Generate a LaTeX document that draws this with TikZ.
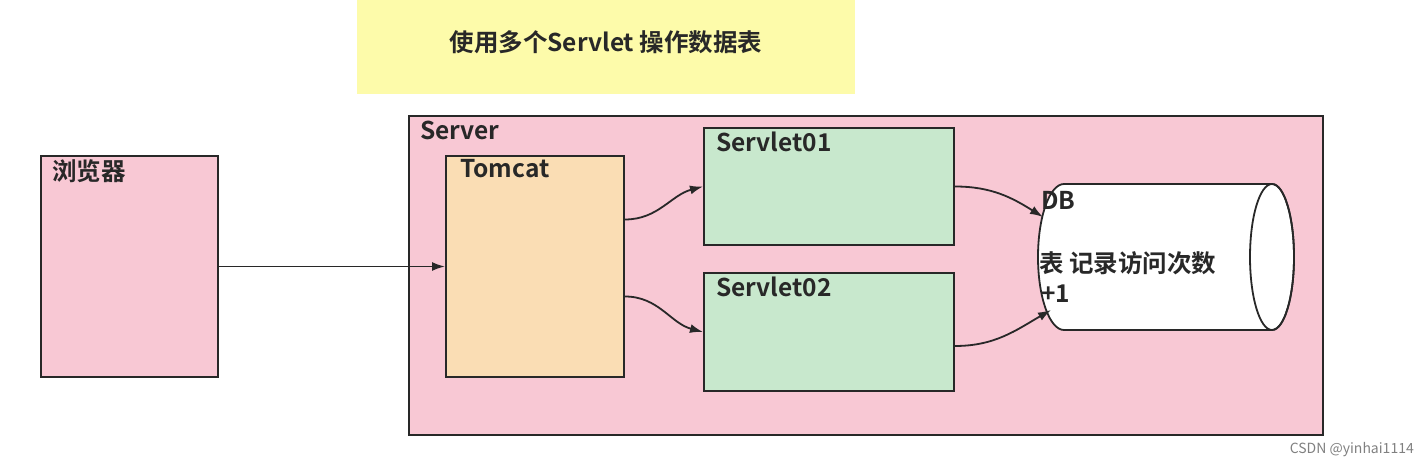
\documentclass[tikz,border=0pt]{standalone}
\usepackage{fontspec}
\setmainfont{Noto Sans CJK SC}
\newfontfamily\cjkb{Noto Sans CJK SC Bold}
\usetikzlibrary{arrows.meta}
\definecolor{pinkbg}{RGB}{248,200,212}
\definecolor{orangebg}{RGB}{250,221,180}
\definecolor{greenbg}{RGB}{200,232,205}
\definecolor{yellowbg}{RGB}{253,251,170}
\definecolor{edge}{RGB}{40,40,40}
\tikzset{
  box/.style={draw=edge, line width=2pt, inner sep=0pt, anchor=north west},
  lbl/.style={font=\cjkb\fontsize{24.5}{28}\selectfont, text=edge, inner sep=0pt, anchor=base west},
  conn/.style={draw=edge, line width=1.8pt, -{Latex[length=13pt,width=9pt]}},
}
\begin{document}
\begin{tikzpicture}[x=1pt,y=1pt]
\useasboundingbox (0,0) rectangle (1428,-465);
% title
\node[fill=yellowbg, inner sep=0pt, minimum width=498pt, minimum height=94pt, anchor=north west] (title) at (357,0) {};
\node[font=\cjkb\fontsize{24.5}{28}\selectfont, text=edge, inner sep=0pt] (titletext) at (606,-42) {使用多个Servlet 操作数据表};
% browser
\node[box, fill=pinkbg, minimum width=177pt, minimum height=221pt] (browser) at (40,-155) {};
\node[lbl] (browserl) at ([shift={(12,-26)}]browser.north west) {浏览器};
% server
\node[box, fill=pinkbg, minimum width=914pt, minimum height=319pt] (server) at (408,-115) {};
\node[lbl] (serverl) at ([shift={(12,-25)}]server.north west) {Server};
% tomcat
\node[box, fill=orangebg, minimum width=178pt, minimum height=221pt] (tomcat) at (445,-155) {};
\node[lbl] (tomcatl) at ([shift={(15,-23)}]tomcat.north west) {Tomcat};
% servlets
\node[box, fill=greenbg, minimum width=250pt, minimum height=117pt] (s1) at (703,-127) {};
\node[lbl] (s1l) at ([shift={(13,-25)}]s1.north west) {Servlet01};
\node[box, fill=greenbg, minimum width=250pt, minimum height=118pt] (s2) at (703,-272) {};
\node[lbl] (s2l) at ([shift={(13,-25)}]s2.north west) {Servlet02};
% DB cylinder
\node[inner sep=0pt, minimum width=256pt, minimum height=146pt, anchor=north west] (db) at (1038,-184) {};
\path[fill=white, draw=edge, line width=1.8pt]
  (1272,-184) -- (1064,-184)
  arc[start angle=90, end angle=270, x radius=26pt, y radius=73pt]
  -- (1272,-330)
  arc[start angle=-90, end angle=90, x radius=22pt, y radius=73pt] -- cycle;
\draw[draw=edge, line width=1.8pt] (1272,-257) ellipse [x radius=22pt, y radius=73pt];
\node[lbl] (dbl) at (1041,-210) {DB};
\node[lbl] (dbt) at (1039,-273) {表 记录访问次数};
\node[lbl] (dbp) at (1041,-303) {+1};
\coordinate (dbin1) at (1043,-217);
\coordinate (dbin2) at (1051,-310);
% connectors
\draw[conn] (browser.east) -- (tomcat.west);
\draw[conn] ([yshift=47pt]tomcat.east) to[out=0, in=195] (s1.west);
\draw[conn] ([yshift=-30pt]tomcat.east) to[out=0, in=165] (s2.west);
\draw[conn] (s1.east) to[out=0, in=148] (dbin1);
\draw[conn] ([yshift=-14pt]s2.east) to[out=0, in=210] (dbin2);
% watermark
\node[font=\fontsize{14}{16}\selectfont, text=gray, inner sep=0pt, anchor=base east] (wm) at (1414,-453) {CSDN @yinhai1114};
\end{tikzpicture}
\end{document}
